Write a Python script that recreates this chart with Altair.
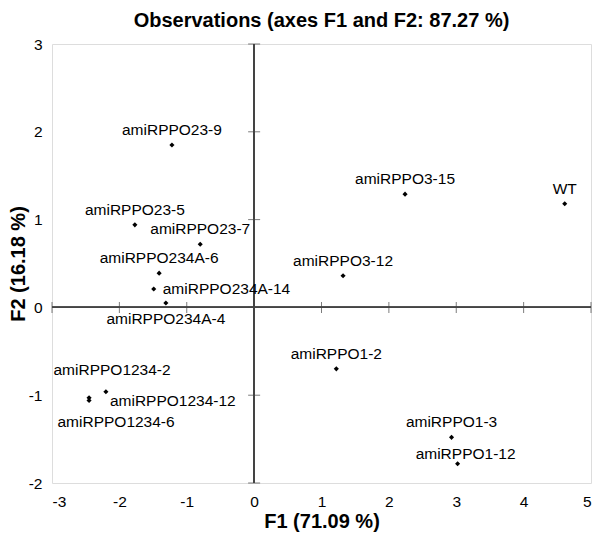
import altair as alt
import pandas as pd

names = ["WT", "amiRPPO3-15", "amiRPPO3-12", "amiRPPO23-9", "amiRPPO23-5",
         "amiRPPO23-7", "amiRPPO234A-6", "amiRPPO234A-14", "amiRPPO234A-4",
         "amiRPPO1234-2", "amiRPPO1234-12", "amiRPPO1234-6",
         "amiRPPO1-2", "amiRPPO1-3", "amiRPPO1-12"]
f1 = [4.61, 2.24, 1.32, -1.22, -1.77, -0.80, -1.41, -1.49, -1.31,
      -2.45, -2.20, -2.45, 1.22, 2.93, 3.02]
f2 = [1.18, 1.29, 0.36, 1.85, 0.94, 0.72, 0.39, 0.21, 0.05,
      -1.03, -0.96, -1.06, -0.70, -1.48, -1.78]
label_place = ["above", "above", "above", "above", "above", "above", "above",
               "right", "below", "upper_right", "right_low", "lower_right",
               "above", "above", "above_near"]

x_ticks = [-3, -2, -1, 0, 1, 2, 3, 4, 5]
y_ticks = [-2, -1, 0, 1, 2, 3]

df = pd.DataFrame({"name": names, "F1": f1, "F2": f2, "place": label_place})
xt = pd.DataFrame({"v": x_ticks})
yt = pd.DataFrame({"v": y_ticks})

FONT = "Liberation Sans"
xs = alt.Scale(domain=[-3, 5], nice=False, zero=False)
ys = alt.Scale(domain=[-2, 3], nice=False, zero=False)

base = alt.Chart(df)

points = base.mark_point(shape="diamond", filled=True, color="black", size=26, opacity=1).encode(
    x=alt.X("F1:Q", scale=xs,
            axis=alt.Axis(values=x_ticks, title="F1 (71.09 %)", grid=False, ticks=False,
                          domain=False, labelFontSize=15.5, labelColor="black", labelPadding=11,
                          labelExpr="'' + datum.value",
                          titleFontSize=20, titleFont=FONT, labelFont=FONT, titleColor="black",
                          titlePadding=2)),
    y=alt.Y("F2:Q", scale=ys,
            axis=alt.Axis(values=y_ticks, title="F2 (16.18 %)", grid=False, ticks=False,
                          domain=False, labelFontSize=15.5, labelColor="black", labelPadding=10,
                          labelExpr="'' + datum.value",
                          titleFontSize=20, titleFont=FONT, labelFont=FONT, titleColor="black",
                          titlePadding=0)),
)

offsets = {
    "above": (0, -15, "center"),
    "above_near": (8, -10, "center"),
    "below": (0, 16, "center"),
    "right": (9, 0, "left"),
    "upper_right": (23, -28, "center"),
    "right_low": (4, 9, "left"),
    "lower_right": (27, 22, "center"),
}

texts = []
for key, (dx, dy, al) in offsets.items():
    texts.append(
        base.transform_filter(alt.datum.place == key).mark_text(
            dx=dx, dy=dy, align=al, baseline="middle", fontSize=15.5, font=FONT, color="black"
        ).encode(x=alt.X("F1:Q", scale=xs), y=alt.Y("F2:Q", scale=ys), text="name:N")
    )

vline = alt.Chart(xt).mark_rule(color="#444444", strokeWidth=1.2).encode(
    x=alt.datum(0, scale=xs), y=alt.datum(-2, scale=ys), y2=alt.datum(3))
hline = alt.Chart(xt).mark_rule(color="#444444", strokeWidth=1.2).encode(
    y=alt.datum(0, scale=ys), x=alt.datum(-3, scale=xs), x2=alt.datum(5))

xticks = alt.Chart(xt).mark_tick(orient="vertical", color="#444444", size=11, thickness=1).encode(
    x=alt.X("v:Q", scale=xs), y=alt.datum(0, scale=ys))
yticks = alt.Chart(yt).mark_tick(orient="horizontal", color="#444444", size=12, thickness=1).encode(
    y=alt.Y("v:Q", scale=ys), x=alt.datum(0, scale=xs))

chart = alt.layer(vline, hline, xticks, yticks, points, *texts).properties(
    width=539, height=439,
    title=alt.TitleParams("Observations (axes F1 and F2: 87.27 %)", fontSize=20,
                          font=FONT, fontWeight="bold", color="black", offset=6),
    padding={"left": 0, "top": 3, "right": 0, "bottom": 0},
).configure_view(stroke="#808080", strokeWidth=1.2).configure(background="white")

chart.save("out.html", embed_options={"renderer": "svg", "actions": False})
